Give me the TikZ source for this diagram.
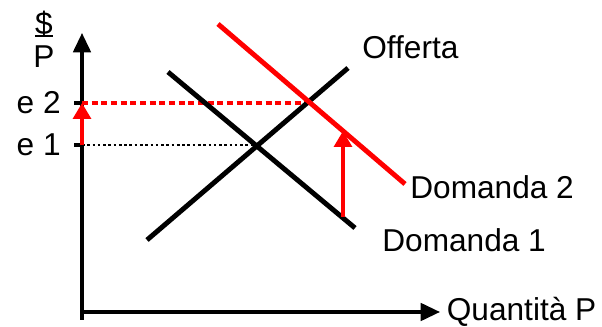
\documentclass[tikz,border=0pt]{standalone}
\usepackage{fontspec}
\setmainfont{Liberation Sans}
\usetikzlibrary{arrows.meta}
\begin{document}
\begin{tikzpicture}[x=0.02cm, y=-0.02cm, font=\fontsize{18}{20}\selectfont, line join=round, >={Triangle[length=11pt,width=10pt]}]
	\useasboundingbox (0,0) rectangle (602,327);
	% assi
	\coordinate (ybot) at (82,320);
	\coordinate (ytop) at (82,33);
	\coordinate (O) at (82,312);
	\coordinate (xend) at (440,312);
	\draw[line width=1.8pt,->] (ybot)--(ytop);
	\draw[line width=1.8pt,->] (O)--(xend) node[right, inner sep=3pt] (qlab) {Quantità P};
	% etichetta asse y
	\node[inner sep=0pt] (dollar) at (44,24) {\$};
	\node[inner sep=0pt] (plab) at (44,57) {P};
	\draw[line width=1.2pt] (35,36)--(53,36);
	% livelli di prezzo
	\coordinate (e2) at (82,103);
	\coordinate (e1) at (82,145);
	\draw[line width=1.8pt] (74,103)--(e2);
	\draw[line width=1.8pt] (74,145)--(e1);
	\node[anchor=east, inner sep=0pt] (e2lab) at (61,103) {e 2};
	\node[anchor=east, inner sep=0pt] (e1lab) at (61,145) {e 1};
	\coordinate (E2) at (310,103);
	\coordinate (E1) at (255,145);
	\draw[red, line width=2pt, dash pattern=on 3.5pt off 2pt] (e2)--(E2);
	\draw[line width=1.2pt, dash pattern=on 1.5pt off 1.5pt] (e1)--(E1);
	\draw[red, line width=2.2pt, ->, >={Triangle[length=9pt,width=10pt]}] (e1)--(e2);
	% curve
	\coordinate (of1) at (147,240);
	\coordinate (of2) at (348,68);
	\coordinate (d1a) at (168,72);
	\coordinate (d1b) at (355,228);
	\coordinate (d2a) at (218,24);
	\coordinate (d2b) at (405,184);
	\draw[line width=2.8pt] (of1)--(of2);
	\draw[line width=2.8pt] (d1a)--(d1b);
	\draw[red, line width=2.8pt] (d2a)--(d2b);
	\node[anchor=west, inner sep=0pt] (oflab) at (362,47) {Offerta};
	\node[anchor=west, inner sep=0pt] (d2lab) at (410,187) {Domanda 2};
	\node[anchor=west, inner sep=0pt] (d1lab) at (382,240) {Domanda 1};
	% spostamento della domanda
	\coordinate (s1) at (343,217);
	\coordinate (s2) at (343,131);
	\draw[red, line width=2.2pt, ->, >={Triangle[length=9pt,width=10pt]}] (s1)--(s2);
\end{tikzpicture}
\end{document}
